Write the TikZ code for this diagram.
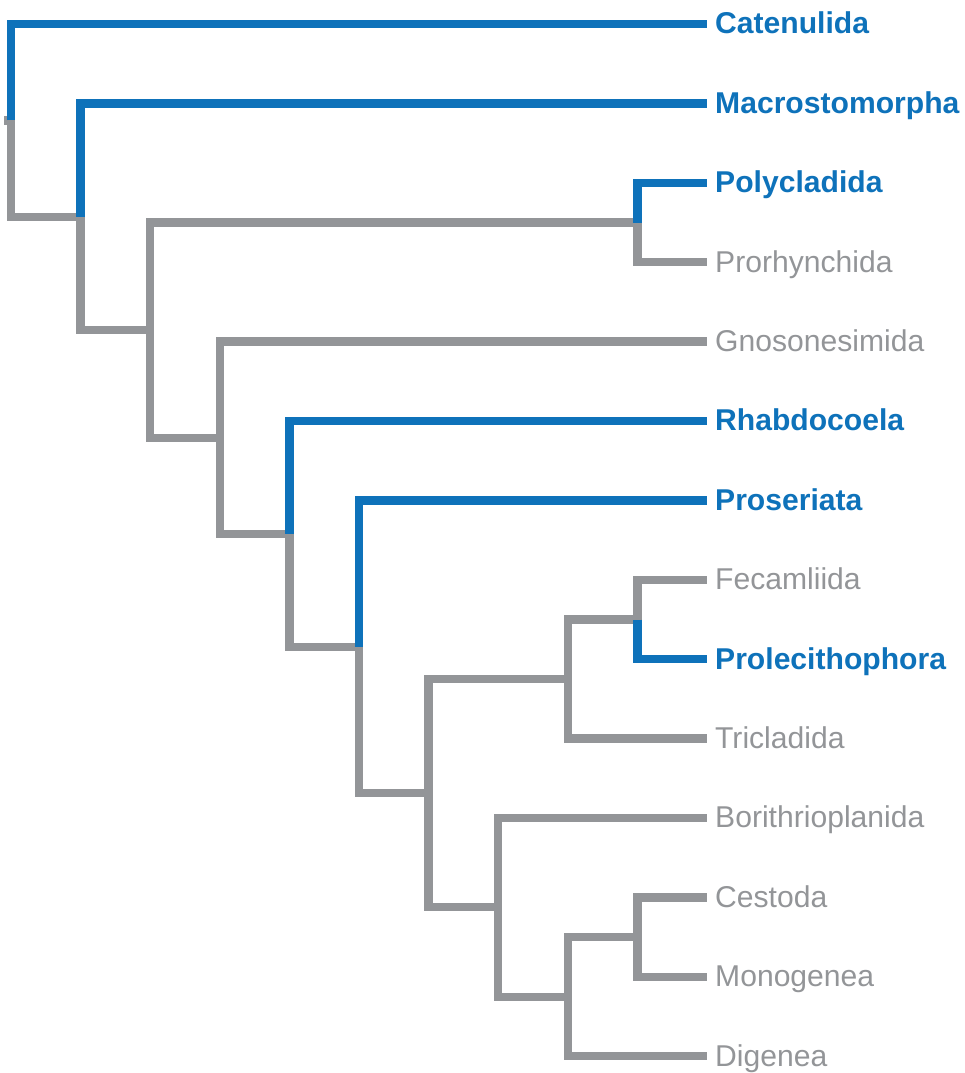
\documentclass[tikz,border=0pt]{standalone}
\usepackage{fontspec}
\setmainfont{Liberation Sans}
\definecolor{treeblue}{RGB}{14,114,186}
\definecolor{treegray}{RGB}{147,149,152}
\begin{document}
\begin{tikzpicture}[x=1pt,y=-1pt,
  branch/.style={line width=8.3pt, line join=miter, line cap=butt},
  gbranch/.style={branch, draw=treegray},
  bbranch/.style={branch, draw=treeblue},
  taxon/.style={anchor=base west, inner sep=0pt},
  gtaxon/.style={taxon, text=treegray, font=\fontsize{30.1}{34}\selectfont},
  btaxon/.style={taxon, text=treeblue, font=\fontsize{30.1}{34}\selectfont\bfseries}]
\useasboundingbox (0,0) rectangle (964,1073);
% internal nodes
\coordinate (stub) at (4,120.4);
\coordinate (root) at (11,120.4);
\coordinate (n1) at (80.6,216.75);
\coordinate (n2) at (150.2,330.1);
\coordinate (nA) at (637.4,222.5);
\coordinate (n3) at (219.8,437.75);
\coordinate (n4) at (289.4,533.9);
\coordinate (n5) at (359,646.8);
\coordinate (n6) at (428.6,793.2);
\coordinate (n7) at (567.8,679.05);
\coordinate (n8) at (637.4,619.5);
\coordinate (n9) at (498.2,907.3);
\coordinate (n10) at (567.8,996.65);
\coordinate (n11) at (637.4,937.1);
% leaf tips
\coordinate (tCat) at (707,24);
\coordinate (tMac) at (707,103.4);
\coordinate (tPol) at (707,182.8);
\coordinate (tPro) at (707,262.2);
\coordinate (tGno) at (707,341.6);
\coordinate (tRha) at (707,421);
\coordinate (tPrs) at (707,500.4);
\coordinate (tFec) at (707,579.8);
\coordinate (tPlc) at (707,659.2);
\coordinate (tTri) at (707,738.6);
\coordinate (tBor) at (707,818);
\coordinate (tCes) at (707,897.4);
\coordinate (tMon) at (707,976.8);
\coordinate (tDig) at (707,1056.2);
% gray branches
\draw[gbranch] (stub) -- (root);
\draw[gbranch] (root) |- (n1);
\draw[gbranch] (n1) |- (n2);
\draw[gbranch] (n2) |- (nA);
\draw[gbranch] (nA) |- (tPro);
\draw[gbranch] (n2) |- (n3);
\draw[gbranch] (n3) |- (tGno);
\draw[gbranch] (n3) |- (n4);
\draw[gbranch] (n4) |- (n5);
\draw[gbranch] (n5) |- (n6);
\draw[gbranch] (n6) |- (n7);
\draw[gbranch] (n7) |- (n8);
\draw[gbranch] (n8) |- (tFec);
\draw[gbranch] (n7) |- (tTri);
\draw[gbranch] (n6) |- (n9);
\draw[gbranch] (n9) |- (tBor);
\draw[gbranch] (n9) |- (n10);
\draw[gbranch] (n10) |- (n11);
\draw[gbranch] (n11) |- (tCes);
\draw[gbranch] (n11) |- (tMon);
\draw[gbranch] (n10) |- (tDig);
% blue branches
\draw[bbranch] (root) |- (tCat);
\draw[bbranch] (n1) |- (tMac);
\draw[bbranch] (nA) |- (tPol);
\draw[bbranch] (n4) |- (tRha);
\draw[bbranch] (n5) |- (tPrs);
\draw[bbranch] (n8) |- (tPlc);
% labels
\node[btaxon] (lCat) at ([shift={(8,9.8)}]tCat) {Catenulida};
\node[btaxon] (lMac) at ([shift={(8,9.8)}]tMac) {Macrostomorpha};
\node[btaxon] (lPol) at ([shift={(8,9.8)}]tPol) {Polycladida};
\node[gtaxon] (lPro) at ([shift={(8,9.8)}]tPro) {Prorhynchida};
\node[gtaxon] (lGno) at ([shift={(8,9.8)}]tGno) {Gnosonesimida};
\node[btaxon] (lRha) at ([shift={(8,9.8)}]tRha) {Rhabdocoela};
\node[btaxon] (lPrs) at ([shift={(8,9.8)}]tPrs) {Proseriata};
\node[gtaxon] (lFec) at ([shift={(8,9.8)}]tFec) {Fecamliida};
\node[btaxon] (lPlc) at ([shift={(8,9.8)}]tPlc) {Prolecithophora};
\node[gtaxon] (lTri) at ([shift={(8,9.8)}]tTri) {Tricladida};
\node[gtaxon] (lBor) at ([shift={(8,9.8)}]tBor) {Borithrioplanida};
\node[gtaxon] (lCes) at ([shift={(8,9.8)}]tCes) {Cestoda};
\node[gtaxon] (lMon) at ([shift={(8,9.8)}]tMon) {Monogenea};
\node[gtaxon] (lDig) at ([shift={(8,9.8)}]tDig) {Digenea};
\end{tikzpicture}
\end{document}
